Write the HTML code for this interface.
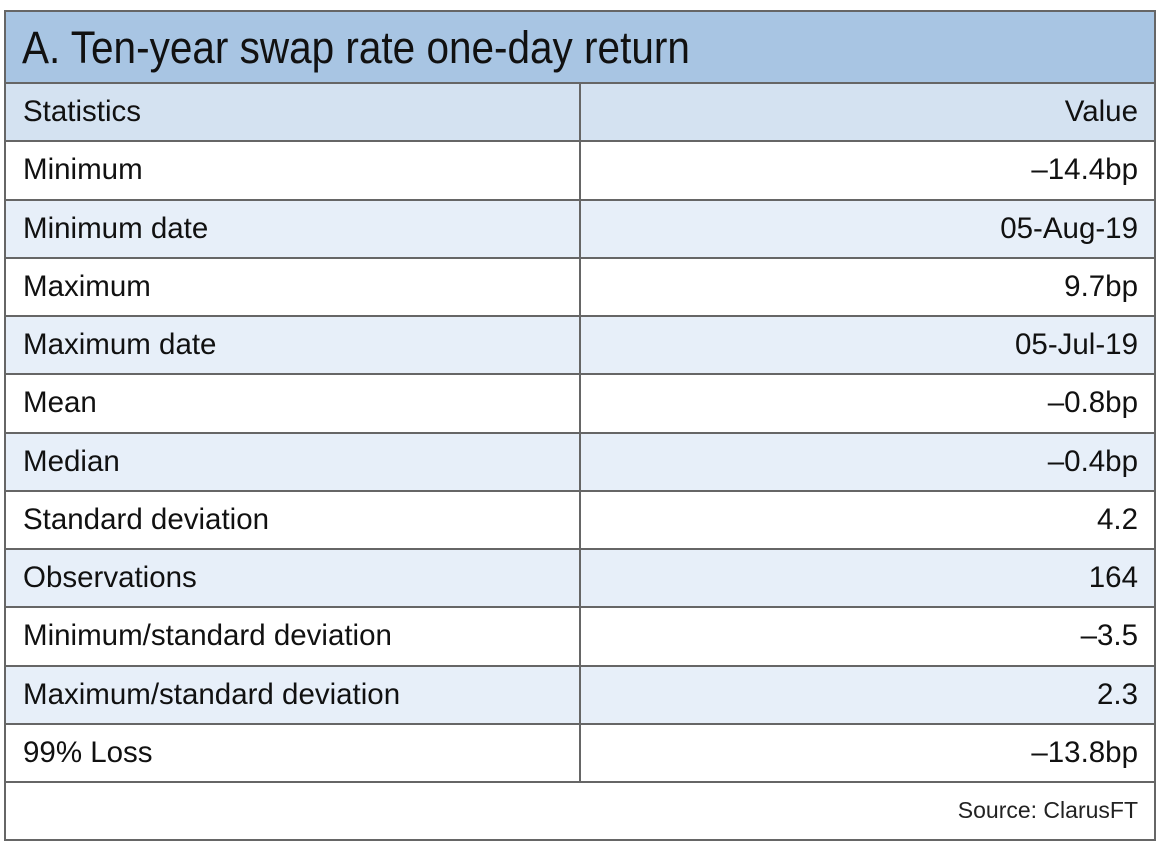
<!DOCTYPE html>
<html><head><meta charset="utf-8"><style>
body{margin:0;background:#fff;width:1160px;height:847px;position:relative;overflow:hidden;font-family:"Liberation Sans",sans-serif;color:#111}
.box{position:absolute;left:4px;top:10px;width:1148px;height:827px;border:2px solid #666;}
.row{position:absolute;left:6px;width:1148px;border-top:2px solid #666;box-sizing:border-box}
.l{position:absolute;left:17px;font-size:29.5px}
.r{position:absolute;right:16px;font-size:29.5px}
.div{position:absolute;left:579px;width:2px;background:#666;top:82px;height:699px}
</style></head><body>
<div class="box"></div>
<div style="position:absolute;left:6px;top:12px;width:1148px;height:70px;background:#a8c5e3"></div>
<div style="position:absolute;left:22px;top:22px;font-size:45px;line-height:52px;transform:scaleX(0.9);transform-origin:left top;white-space:nowrap">A. Ten-year swap rate one-day return</div>
<div id="rows"></div>
<script>
var data=[["Statistics","Value"],["Minimum","–14.4bp"],["Minimum date","05-Aug-19"],["Maximum","9.7bp"],["Maximum date","05-Jul-19"],["Mean","–0.8bp"],["Median","–0.4bp"],["Standard deviation","4.2"],["Observations","164"],["Minimum/standard deviation","–3.5"],["Maximum/standard deviation","2.3"],["99% Loss","–13.8bp"]];
var h="";var top0=82,rh=58.25;
for(var i=0;i<data.length;i++){var t=top0+i*rh;var bg=i==0?"#d4e2f1":(i%2==0?"#e7eff9":"#fff");
h+='<div class="row" style="top:'+t+'px;height:'+rh+'px;background:'+bg+'"><div class="l" style="top:11px">'+data[i][0]+'</div><div class="r" style="top:11px">'+data[i][1]+'</div></div>';}
h+='<div class="row" style="top:'+(top0+12*rh)+'px;height:56px;background:#fff"><div class="r" style="top:14px;font-size:23px;color:#222">Source: ClarusFT</div></div>';
h+='<div class="div"></div>';
document.getElementById("rows").innerHTML=h;
</script>
</body></html>
